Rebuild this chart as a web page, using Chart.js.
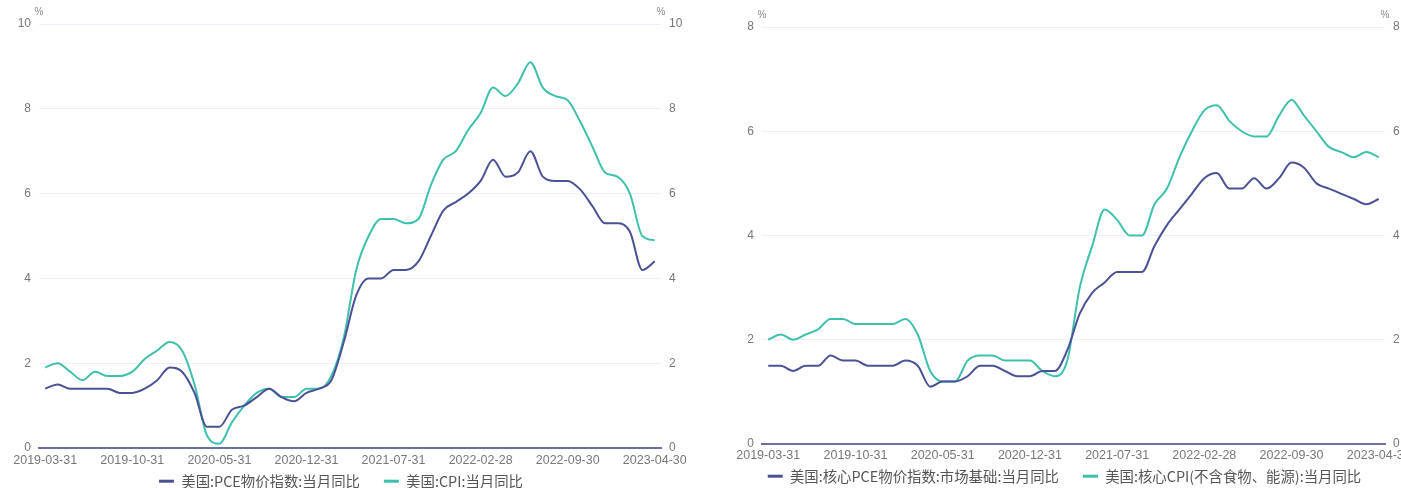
<!DOCTYPE html>
<html><head><meta charset="utf-8">
<script src="https://cdn.jsdelivr.net/npm/chart.js@4.4.1/dist/chart.umd.min.js"></script>
<style>
html,body{margin:0;padding:0;background:#fff;}
#w{position:relative;width:1401px;height:488px;overflow:hidden;}
.c{position:absolute;top:0;height:488px;}
#c1{left:0;width:700px;}
#c2{left:700px;width:701px;}
</style></head><body>
<div id="w"><div class="c" id="c1"><canvas id="a"></canvas></div><div class="c" id="c2"><canvas id="b"></canvas></div></div>
<script>
const categories = [
 "2019-03-31","2019-04-30","2019-05-31","2019-06-30","2019-07-31","2019-08-31","2019-09-30","2019-10-31","2019-11-30","2019-12-31",
 "2020-01-31","2020-02-29","2020-03-31","2020-04-30","2020-05-31","2020-06-30","2020-07-31","2020-08-31","2020-09-30","2020-10-31","2020-11-30","2020-12-31",
 "2021-01-31","2021-02-28","2021-03-31","2021-04-30","2021-05-31","2021-06-30","2021-07-31","2021-08-31","2021-09-30","2021-10-31","2021-11-30","2021-12-31",
 "2022-01-31","2022-02-28","2022-03-31","2022-04-30","2022-05-31","2022-06-30","2022-07-31","2022-08-31","2022-09-30","2022-10-31","2022-11-30","2022-12-31",
 "2023-01-31","2023-02-28","2023-03-31","2023-04-30"
];
const tickLabels = ["2019-03-31","2019-10-31","2020-05-31","2020-12-31","2021-07-31","2022-02-28","2022-09-30","2023-04-30"];

const pceYoY = [1.4,1.5,1.4,1.4,1.4,1.4,1.3,1.3,1.4,1.6,
 1.9,1.8,1.3,0.5,0.5,0.9,1.0,1.2,1.4,1.2,1.1,1.3,
 1.4,1.6,2.5,3.6,4.0,4.0,4.2,4.2,4.4,5.0,5.6,5.8,
 6.0,6.3,6.8,6.4,6.5,7.0,6.4,6.3,6.3,6.1,5.7,5.3,
 5.3,5.1,4.2,4.4];
const cpiYoY = [1.9,2.0,1.8,1.6,1.8,1.7,1.7,1.8,2.1,2.3,
 2.5,2.3,1.5,0.3,0.1,0.6,1.0,1.3,1.4,1.2,1.2,1.4,
 1.4,1.7,2.6,4.2,5.0,5.4,5.4,5.3,5.4,6.2,6.8,7.0,
 7.5,7.9,8.5,8.3,8.6,9.1,8.5,8.3,8.2,7.7,7.1,6.5,
 6.4,6.0,5.0,4.9];
const corePceMarketYoY = [1.5,1.5,1.4,1.5,1.5,1.7,1.6,1.6,1.5,1.5,
 1.5,1.6,1.5,1.1,1.2,1.2,1.3,1.5,1.5,1.4,1.3,1.3,
 1.4,1.4,1.8,2.5,2.9,3.1,3.3,3.3,3.3,3.8,4.2,4.5,
 4.8,5.1,5.2,4.9,4.9,5.1,4.9,5.1,5.4,5.3,5.0,4.9,
 4.8,4.7,4.6,4.7];
const coreCpiYoY = [2.0,2.1,2.0,2.1,2.2,2.4,2.4,2.3,2.3,2.3,
 2.3,2.4,2.1,1.4,1.2,1.2,1.6,1.7,1.7,1.6,1.6,1.6,
 1.4,1.3,1.6,3.0,3.8,4.5,4.3,4.0,4.0,4.6,4.9,5.5,
 6.0,6.4,6.5,6.2,6.0,5.9,5.9,6.3,6.6,6.3,6.0,5.7,
 5.6,5.5,5.6,5.5];

const seriesNamesLeft = ["美国:PCE物价指数:当月同比","美国:CPI:当月同比"];
const seriesNamesRight = ["美国:核心PCE物价指数:市场基础:当月同比","美国:核心CPI(不含食物、能源):当月同比"];
const leftAxisMax = 10;
const rightAxisMax = 8;
const unitLabel = "%";

const C_DARK = '#4b5196';
const C_TEAL = '#3ec0ad';
const FONT = "'Liberation Sans', Arial, 'Noto Sans CJK SC', sans-serif";
const CJK = "'Noto Sans CJK SC', 'Liberation Sans', sans-serif";

const unitPlugin = {
  id: 'unit',
  afterDraw(chart) {
    const {ctx, chartArea} = chart;
    ctx.save();
    ctx.font = "10px " + FONT;
    ctx.fillStyle = '#888';
    ctx.textAlign = 'center';
    ctx.textBaseline = 'middle';
    ctx.fillText(unitLabel, chartArea.left, chartArea.top - 12);
    ctx.fillText(unitLabel, chartArea.right, chartArea.top - 12);
    ctx.restore();
  }
};

// legend labels padding sets the horizontal item gap; this lifts the legend box top so the row sits higher
const legendShiftPlugin = {
  id: 'legendShift',
  afterLayout(chart, args, opts) {
    const lg = chart.legend;
    if (lg) { lg.top -= opts.shift; }
  }
};

function makeChart(id, names, d1, d2, yMax, g) {
  const yCommon = (pos, w) => ({
    position: pos, min: 0, max: yMax,
    ticks: {stepSize: 2, padding: 8, color: '#777', font: {size: 12, family: FONT}},
    grid: {display: pos === 'left', color: '#eceff6', lineWidth: 1, drawTicks: false},
    border: {display: false},
    afterFit(s) { s.width = w; }
  });
  return new Chart(document.getElementById(id), {
    type: 'line',
    data: {
      labels: categories,
      datasets: [
        {label: names[0], data: d1, borderColor: C_DARK, backgroundColor: C_DARK, borderWidth: 2, pointRadius: 0, cubicInterpolationMode: 'monotone', yAxisID: 'y'},
        {label: names[1], data: d2, borderColor: C_TEAL, backgroundColor: C_TEAL, borderWidth: 2, pointRadius: 0, cubicInterpolationMode: 'monotone', yAxisID: 'y'}
      ]
    },
    options: {
      responsive: true, maintainAspectRatio: false, animation: false,
      layout: {padding: {top: g.top, left: g.padL, right: g.padR, bottom: 0}},
      scales: {
        x: {
          type: 'category', offset: true,
          grid: {display: false, drawTicks: false},
          border: {display: true, color: '#6a6fa8', width: 2},
          ticks: {autoSkip: false, maxRotation: 0, minRotation: 0, padding: g.xPad, color: '#777', font: {size: 12.5, family: FONT},
            callback: function(v, i) { const l = categories[i]; return tickLabels.includes(l) ? l : null; }},
          afterFit(s) { s.height = 22; s.paddingLeft = 0; s.paddingRight = 0; }
        },
        y: yCommon('left', g.leftW),
        y2: yCommon('right', g.rightW)
      },
      plugins: {
        tooltip: {enabled: false},
        legendShift: {shift: g.shift},
        legend: {
          position: 'bottom', maxHeight: g.legH,
          labels: {
            boxWidth: 15, boxHeight: 3, padding: 24, color: '#555', font: {size: 14.4, family: CJK},
            generateLabels(chart) {
              return chart.data.datasets.map((ds, i) => ({text: ds.label, fillStyle: ds.borderColor, strokeStyle: ds.borderColor, lineWidth: 0, hidden: false, datasetIndex: i, fontColor: '#555'}));
            }
          }
        }
      }
    },
    plugins: [unitPlugin, legendShiftPlugin]
  });
}

makeChart('a', seriesNamesLeft, pceYoY, cpiYoY, leftAxisMax,
  {top: 24, padL: 0, padR: 18, leftW: 39, rightW: 21, xPad: 5, legH: 18, shift: 20});
makeChart('b', seriesNamesRight, corePceMarketYoY, coreCpiYoY, rightAxisMax,
  {top: 27, padL: 28, padR: 0, leftW: 34, rightW: 16, xPad: 4, legH: 22, shift: 21});
</script>
</body></html>
